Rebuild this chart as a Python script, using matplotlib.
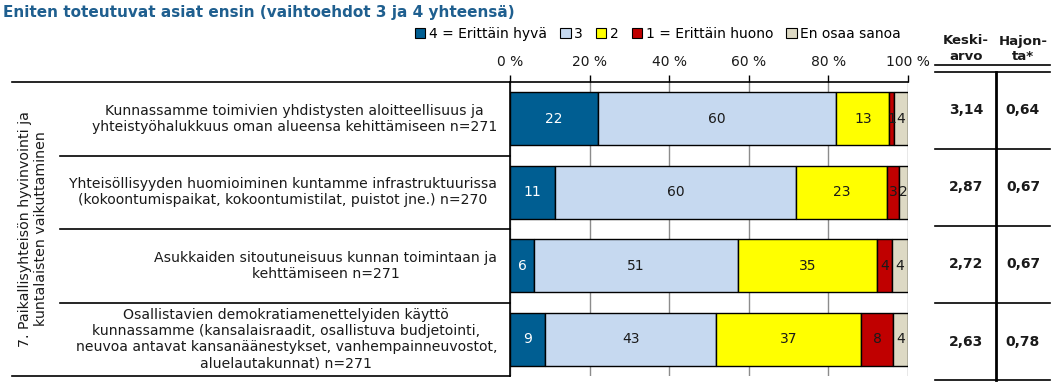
import numpy as np
import matplotlib
matplotlib.use("Agg")
import matplotlib.pyplot as plt
from matplotlib.lines import Line2D
from matplotlib.patches import Patch

otsikko = "Eniten toteutuvat asiat ensin (vaihtoehdot 3 ja 4 yhteensä)"
ryhma = "7. Paikallisyhteisön hyvinvointi ja\nkuntalaisten vaikuttaminen"
kysymykset = [
    "Kunnassamme toimivien yhdistysten aloitteellisuus ja\nyhteistyöhalukkuus oman alueensa kehittämiseen n=271",
    "Yhteisöllisyyden huomioiminen kuntamme infrastruktuurissa\n(kokoontumispaikat, kokoontumistilat, puistot jne.) n=270",
    "Asukkaiden sitoutuneisuus kunnan toimintaan ja\nkehttämiseen n=271",
    "Osallistavien demokratiamenettelyiden käyttö\nkunnassamme (kansalaisraadit, osallistuva budjetointi,\nneuvoa antavat kansanäänestykset, vanhempainneuvostot,\naluelautakunnat) n=271",
]
sarjat = ["4 = Erittäin hyvä", "3", "2", "1 = Erittäin huono", "En osaa sanoa"]
# bar widths (%), labels are the printed integers
leveydet = [
    [22.1, 59.9, 13.3, 1.1, 3.6],
    [11.4, 60.4, 22.9, 3.1, 2.2],
    [6.0, 51.3, 34.9, 3.8, 4.0],
    [8.9, 42.8, 36.5, 8.0, 3.8],
]
arvot = [
    [22, 60, 13, 1, 4],
    [11, 60, 23, 3, 2],
    [6, 51, 35, 4, 4],
    [9, 43, 37, 8, 4],
]
keskiarvo = ["3,14", "2,87", "2,72", "2,63"]
hajonta = ["0,64", "0,67", "0,67", "0,78"]
varit = ["#005E92", "#C6D9F0", "#FFFF00", "#C00000", "#DDD9C4"]
tekstivarit = ["white", "#1a1a1a", "#1a1a1a", "#1a1a1a", "#1a1a1a"]

W, H = 1057, 389
fig = plt.figure(figsize=(W / 100, H / 100), dpi=100)
plt.rcParams['font.family'] = ['DejaVu Sans']

def fx(px):
    return px / W

def fy(py):
    return 1 - py / H

ax = fig.add_axes([fx(510), fy(376), fx(908) - fx(510), fy(82) - fy(376)])

y = np.arange(len(kysymykset))
lev = np.array(leveydet)
alku = np.zeros(len(kysymykset))
for j in range(len(sarjat)):
    ax.barh(y, lev[:, j], left=alku, height=0.72, color=varit[j],
            edgecolor="black", linewidth=1.0, label=sarjat[j], zorder=3)
    for i in range(len(kysymykset)):
        ax.text(alku[i] + lev[i, j] / 2, y[i], str(arvot[i][j]), ha="center", va="center",
                fontsize=10, color=tekstivarit[j], zorder=4)
    alku = alku + lev[:, j]

ax.set_xlim(0, 100)
ax.set_ylim(3.5, -0.5)
ax.xaxis.tick_top()
ax.set_xticks(np.arange(0, 101, 20))
ax.set_xticklabels([f"{v} %" for v in range(0, 101, 20)], fontsize=10, color="#1a1a1a")
ax.tick_params(axis="x", length=5, width=1, pad=4, color="black")
ax.grid(axis="x", color="#8c8c8c", linewidth=1, zorder=0)
ax.set_yticks([])
for s in ["right", "bottom"]:
    ax.spines[s].set_visible(False)
ax.spines["top"].set_linewidth(1.2)
ax.spines["left"].set_linewidth(1.2)

# question labels and table lines on the left
ytr = ax.get_yaxis_transform()
for i, q in enumerate(kysymykset):
    ax.text(-13 / 398, y[i], q, transform=ytr, ha="right", va="center",
            multialignment="center", fontsize=10.1, color="#1a1a1a", linespacing=1.2)
for sep in [0.5, 1.5, 2.5]:
    ax.add_line(Line2D([-(510 - 60) / 398, 0], [sep, sep], transform=ytr,
                       color="black", linewidth=1.2, clip_on=False))
for sep in [-0.5, 3.5]:
    ax.add_line(Line2D([-(510 - 12) / 398, 0], [sep, sep], transform=ytr,
                       color="black", linewidth=1.2, clip_on=False))
fig.text(fx(33), fy(229), ryhma, rotation=90, ha="center", va="center",
         multialignment="center", fontsize=10.2, color="#1a1a1a", linespacing=1.2)

# title and legend
fig.text(fx(3), fy(13), otsikko, ha="left", va="center", fontsize=11,
         fontweight="bold", color="#1F5F8F")
kahvat = [Patch(facecolor=c, edgecolor="black", linewidth=0.8) for c in varit]
fig.legend(kahvat, sarjat, loc="center", bbox_to_anchor=(fx(658), fy(34)), ncol=5,
           frameon=False, fontsize=10, handlelength=0.75, handleheight=0.75,
           handletextpad=0.25, columnspacing=0.95, borderaxespad=0)

# mean / deviation table on the right
fig.text(fx(966), fy(49), "Keski-\narvo", ha="center", va="center", fontsize=9.5,
         fontweight="bold", color="#1a1a1a", linespacing=1.3)
fig.text(fx(1023), fy(49), "Hajon-\nta*", ha="center", va="center", fontsize=9.5,
         fontweight="bold", color="#1a1a1a", linespacing=1.3)
rivit = [72, 149, 226, 303, 380]
for py in [65] + rivit:
    fig.add_artist(Line2D([fx(935), fx(1050)], [fy(py), fy(py)], color="black", linewidth=1.2))
fig.add_artist(Line2D([fx(996), fx(996)], [fy(72), fy(380)], color="black", linewidth=2))
for i in range(len(keskiarvo)):
    yc = (rivit[i] + rivit[i + 1]) / 2
    fig.text(fx(966), fy(yc), keskiarvo[i], ha="center", va="center", fontsize=10,
             fontweight="bold", color="#1a1a1a")
    fig.text(fx(1023), fy(yc), hajonta[i], ha="center", va="center", fontsize=10,
             fontweight="bold", color="#1a1a1a")

fig.savefig("out.png", dpi=100)
